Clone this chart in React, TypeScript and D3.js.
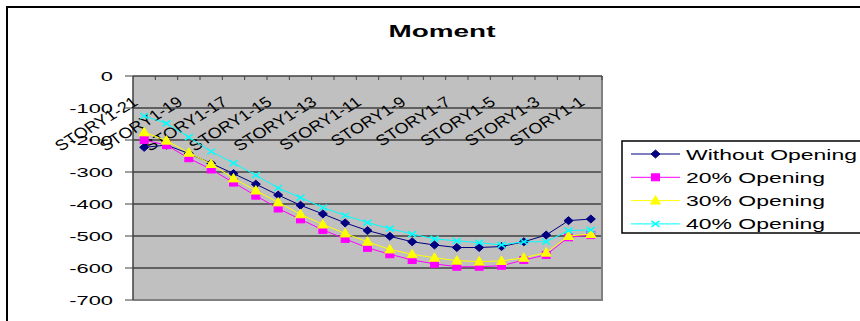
import React, { useEffect, useRef } from 'react';
import * as d3 from 'd3';

const categories = [
  'STORY1-21', 'STORY1-20', 'STORY1-19', 'STORY1-18', 'STORY1-17', 'STORY1-16', 'STORY1-15',
  'STORY1-14', 'STORY1-13', 'STORY1-12', 'STORY1-11', 'STORY1-10', 'STORY1-9', 'STORY1-8',
  'STORY1-7', 'STORY1-6', 'STORY1-5', 'STORY1-4', 'STORY1-3', 'STORY1-2', 'STORY1-1',
];

const withoutOpening = [-223, -216, -242, -273, -305, -338, -372, -404, -431, -459, -483, -501, -518, -528, -536, -536, -533, -518, -497, -452, -447];
const opening20 = [-200, -216, -257, -292, -333, -374, -414, -448, -481, -509, -537, -557, -575, -587, -596, -596, -593, -575, -559, -504, -497];
const opening30 = [-176, -202, -240, -275, -320, -358, -395, -432, -464, -492, -518, -542, -557, -568, -577, -580, -578, -568, -552, -500, -494];
const opening40 = [-125, -148, -191, -236, -272, -310, -350, -380, -411, -436, -458, -477, -494, -509, -515, -521, -528, -518, -518, -483, -481];

const yTicks = [0, -100, -200, -300, -400, -500, -600, -700];

const seriesNames = ['Without Opening', '20% Opening', '30% Opening', '40% Opening'];
const seriesColors = ['#000080', '#FF00FF', '#FFFF00', '#00FFFF'];
const seriesMarkers = ['diamond', 'square', 'triangle', 'cross'];

const FONT = "'Liberation Sans', Arial, sans-serif";

const App: React.FC = () => {
  const svgRef = useRef<SVGSVGElement>(null);

  useEffect(() => {
    if (!svgRef.current) return;
    const svg = d3.select(svgRef.current);
    svg.selectAll('*').remove();

    const plot = { left: 133, right: 602, top: 76, bottom: 300 };
    const allSeries = [withoutOpening, opening20, opening30, opening40];

    // outer chart frame
    svg.append('rect').attr('x', 7).attr('y', 7).attr('width', 870).attr('height', 330)
      .attr('fill', '#fff').attr('stroke', '#000').attr('stroke-width', 2);

    // title
    svg.append('text')
      .attr('transform', 'translate(442,37) scale(1.66,1)')
      .attr('text-anchor', 'middle').attr('font-family', FONT)
      .attr('font-size', 16.8).attr('font-weight', 'bold').text('Moment');

    const x = d3.scaleBand<string>().domain(categories).range([plot.left, plot.right]);
    const y = d3.scaleLinear().domain([0, -700]).range([plot.top, plot.bottom]);

    // plot area
    svg.append('rect').attr('x', plot.left).attr('y', plot.top)
      .attr('width', plot.right - plot.left).attr('height', plot.bottom - plot.top)
      .attr('fill', '#C0C0C0');

    // gridlines
    svg.append('g').selectAll('line').data(yTicks.filter(t => t !== 0 && t !== -700)).enter()
      .append('line')
      .attr('x1', plot.left).attr('x2', plot.right)
      .attr('y1', d => y(d)).attr('y2', d => y(d))
      .attr('stroke', '#000').attr('stroke-width', 1);

    // plot border (right & bottom gray)
    svg.append('path')
      .attr('d', `M${plot.right},${plot.top} V${plot.bottom} H${plot.left}`)
      .attr('fill', 'none').attr('stroke', '#808080').attr('stroke-width', 2);

    // y axis
    svg.append('line').attr('x1', plot.left).attr('x2', plot.left)
      .attr('y1', plot.top).attr('y2', plot.bottom).attr('stroke', '#404040').attr('stroke-width', 1.5);
    const yAxis = svg.append('g');
    yTicks.forEach(t => {
      yAxis.append('line').attr('x1', plot.left - 8).attr('x2', plot.left)
        .attr('y1', y(t)).attr('y2', y(t)).attr('stroke', '#404040').attr('stroke-width', 1);
      yAxis.append('text')
        .attr('transform', `translate(113,${y(t) + 4.5}) scale(1.75,1)`)
        .attr('text-anchor', 'end').attr('font-family', FONT).attr('font-size', 12.5)
        .text(String(t));
    });

    // category axis at 0
    svg.append('line').attr('x1', plot.left).attr('x2', plot.right)
      .attr('y1', y(0)).attr('y2', y(0)).attr('stroke', '#404040').attr('stroke-width', 1.5);
    const bw = x.bandwidth();
    const xAxis = svg.append('g');
    categories.forEach((c, i) => {
      const tx = (x(c) as number) + bw;
      xAxis.append('line').attr('x1', tx).attr('x2', tx)
        .attr('y1', y(0)).attr('y2', y(0) + 4).attr('stroke', '#404040').attr('stroke-width', 1);
      if (i % 2 === 0) {
        const cx = (x(c) as number) + bw / 2;
        xAxis.append('text')
          .attr('transform', `translate(${cx - 5},104) scale(1.2,1) rotate(-36)`)
          .attr('text-anchor', 'end').attr('font-family', FONT).attr('font-size', 15)
          .text(c);
      }
    });

    const drawMarker = (g: d3.Selection<SVGGElement, unknown, null, undefined>, kind: string, cx: number, cy: number, color: string) => {
      if (kind === 'diamond') {
        g.append('path').attr('d', `M${cx},${cy - 4} L${cx + 4.5},${cy} L${cx},${cy + 4} L${cx - 4.5},${cy} Z`)
          .attr('fill', color).attr('stroke', color);
      } else if (kind === 'square') {
        g.append('rect').attr('x', cx - 4).attr('y', cy - 3.5).attr('width', 8).attr('height', 7)
          .attr('fill', color).attr('stroke', color);
      } else if (kind === 'triangle') {
        g.append('path').attr('d', `M${cx},${cy - 5} L${cx + 5},${cy + 3.5} L${cx - 5},${cy + 3.5} Z`)
          .attr('fill', color).attr('stroke', color);
      } else {
        g.append('path').attr('d', `M${cx - 4},${cy - 3} L${cx + 4},${cy + 3} M${cx - 4},${cy + 3} L${cx + 4},${cy - 3}`)
          .attr('stroke', color).attr('stroke-width', 1.5).attr('fill', 'none');
      }
    };

    const line = d3.line<number>()
      .x((_, i) => (x(categories[i]) as number) + bw / 2)
      .y(d => y(d));

    allSeries.forEach((data, si) => {
      const g = svg.append('g');
      g.append('path').attr('d', line(data)).attr('fill', 'none')
        .attr('stroke', seriesColors[si]).attr('stroke-width', 1);
      data.forEach((v, i) => {
        drawMarker(g, seriesMarkers[si], (x(categories[i]) as number) + bw / 2, y(v), seriesColors[si]);
      });
    });

    // legend
    const lg = svg.append('g');
    lg.append('rect').attr('x', 622).attr('y', 141).attr('width', 260).attr('height', 92)
      .attr('fill', '#fff').attr('stroke', '#000').attr('stroke-width', 1.5);
    seriesNames.forEach((name, i) => {
      const ly = 154 + i * 23.3;
      lg.append('line').attr('x1', 631).attr('x2', 680).attr('y1', ly).attr('y2', ly)
        .attr('stroke', seriesColors[i]).attr('stroke-width', 1);
      drawMarker(lg, seriesMarkers[i], 655.5, ly, seriesColors[i]);
      lg.append('text')
        .attr('transform', `translate(686,${ly + 5.5}) scale(1.5,1)`)
        .attr('font-family', FONT).attr('font-size', 15.3).text(name);
    });
  }, []);

  return (
    <div style={{ position: 'absolute', left: 0, top: 0 }}>
      <svg ref={svgRef} width={860} height={321} style={{ display: 'block' }} />
    </div>
  );
};

export default App;
